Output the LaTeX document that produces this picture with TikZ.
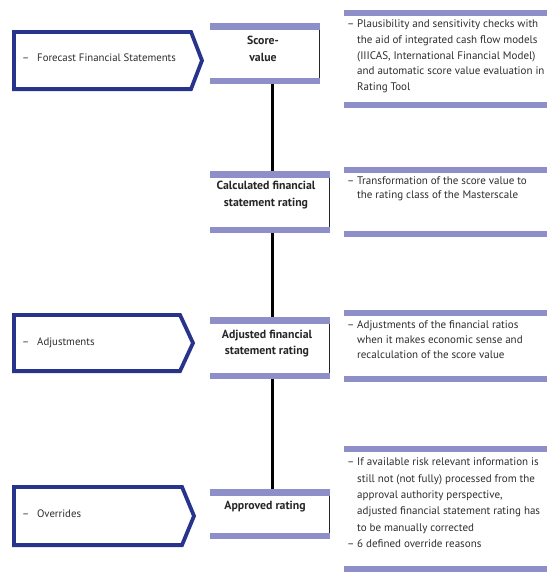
\documentclass[tikz,border=0pt]{standalone}
\usepackage{fontspec}
\setmainfont{PT Sans}
\definecolor{navy}{RGB}{40,52,140}
\definecolor{barc}{RGB}{142,142,200}
\definecolor{txt}{RGB}{45,45,45}

% a bulleted list: dash column plus text column
\newcommand{\dashlist}[1]{\begin{tabular}{@{}p{10pt}@{}l@{}}#1\end{tabular}}

\begin{document}
\begin{tikzpicture}[x=1pt,y=-1pt,
  bar/.style={fill=barc},
  frame/.style={draw=navy,line width=3.8pt,line join=miter},
  spine/.style={line width=3pt,black},
  edge/.style={line width=1.5pt,black!85},
  box/.style={inner sep=0pt,outer sep=0pt,anchor=north west},
  head/.style={font=\fontsize{11.8}{16.5}\selectfont\bfseries,text=black!85,align=center,inner sep=0pt},
  note/.style={font=\fontsize{11}{15.7}\selectfont,text=txt,anchor=north west,inner sep=0pt},
  stage/.style={font=\fontsize{10.8}{12}\selectfont,text=txt,anchor=west,inner sep=0pt}]

\useasboundingbox (0,0) rectangle (547,573);

% ---------- left: input stages ----------
\draw[frame] (13.9,31.9) -- (191,31.9) -- (202,60.5) -- (191,89.1) -- (13.9,89.1) -- cycle;
\node[stage] (s1) at (22,58) {\makebox[15pt][l]{–}Forecast Financial Statements};

\draw[frame] (13.9,314.9) -- (180,314.9) -- (193,343) -- (180,371.1) -- (13.9,371.1) -- cycle;
\node[stage] (s2) at (22,343) {\makebox[15pt][l]{–}Adjustments};

\draw[frame] (13.9,486.9) -- (182,486.9) -- (194,516) -- (182,545.1) -- (13.9,545.1) -- cycle;
\node[stage] (s3) at (22,514) {\makebox[15pt][l]{–}Overrides};

% ---------- centre: rating steps ----------
\node[box,minimum width=110pt,minimum height=61pt] (b1) at (210,23) {};
\node[box,minimum width=120pt,minimum height=62pt] (b2) at (210,171) {};
\node[box,minimum width=120pt,minimum height=62pt] (b3) at (210,317) {};
\node[box,minimum width=120pt,minimum height=50pt] (b4) at (210,489) {};

\foreach \b in {b1,b2,b3,b4}{
  \fill[bar] (\b.north west) rectangle ([yshift=-6.5pt]\b.north east);
  \fill[bar] ([yshift=6.5pt]\b.south west) rectangle (\b.south east);
  \draw[edge] ([xshift=-0.75pt,yshift=-6.5pt]\b.north east) -- ([xshift=-0.75pt,yshift=6.5pt]\b.south east);
}

\node[head] (h1) at (263,49) {Score-\\value};
\node[head] (h2) at (266,195) {Calculated financial\\statement rating};
\node[head] (h3) at (267,343.5) {Adjusted financial\\statement rating};
\node[head] (h4) at (265,507) {Approved rating};

% ---------- spine between the steps ----------
\coordinate (sp) at (272,0);
\draw[spine] (b1.south -| sp) -- (b2.north -| sp);
\draw[spine] (b2.south -| sp) -- (b3.north -| sp);
\draw[spine] (b3.south -| sp) -- (b4.north -| sp);

% ---------- right: explanations ----------
\node[box,minimum width=203pt,minimum height=98pt] (r1) at (344,10) {};
\node[box,minimum width=203pt,minimum height=70pt] (r2) at (344,167) {};
\node[box,minimum width=203pt,minimum height=72pt] (r3) at (344,310) {};
\node[box,minimum width=203pt,minimum height=126pt] (r4) at (344,446) {};

\foreach \r in {r1,r2,r3,r4}{
  \fill[bar] (\r.north west) rectangle ([yshift=-6pt]\r.north east);
  \fill[bar] ([yshift=6pt]\r.south west) rectangle (\r.south east);
}

\node[note] (n1) at (347,16.5) {\dashlist{%
  –&Plausibility and sensitivity checks with\\
   &the aid of integrated cash flow models\\
   &(IIICAS, International Financial Model)\\
   &and automatic score value evaluation in\\
   &Rating Tool}};

\node[note,font=\fontsize{11}{14.5}\selectfont] (n2) at (347,174) {\dashlist{%
  –&Transformation of the score value to\\
   &the rating class of the Masterscale}};

\node[note,font=\fontsize{11}{14.8}\selectfont] (n3) at (347,318) {\dashlist{%
  –&Adjustments of the financial ratios\\
   &when it makes economic sense and\\
   &recalculation of the score value}};

\node[note,font=\fontsize{11}{16.4}\selectfont] (n4) at (347,454) {\dashlist{%
  –&If available risk relevant information is\\
   &still not (not fully) processed from the\\
   &approval authority perspective,\\
   &adjusted financial statement rating has\\
   &to be manually corrected\\
  –&6 defined override reasons}};

\end{tikzpicture}
\end{document}
